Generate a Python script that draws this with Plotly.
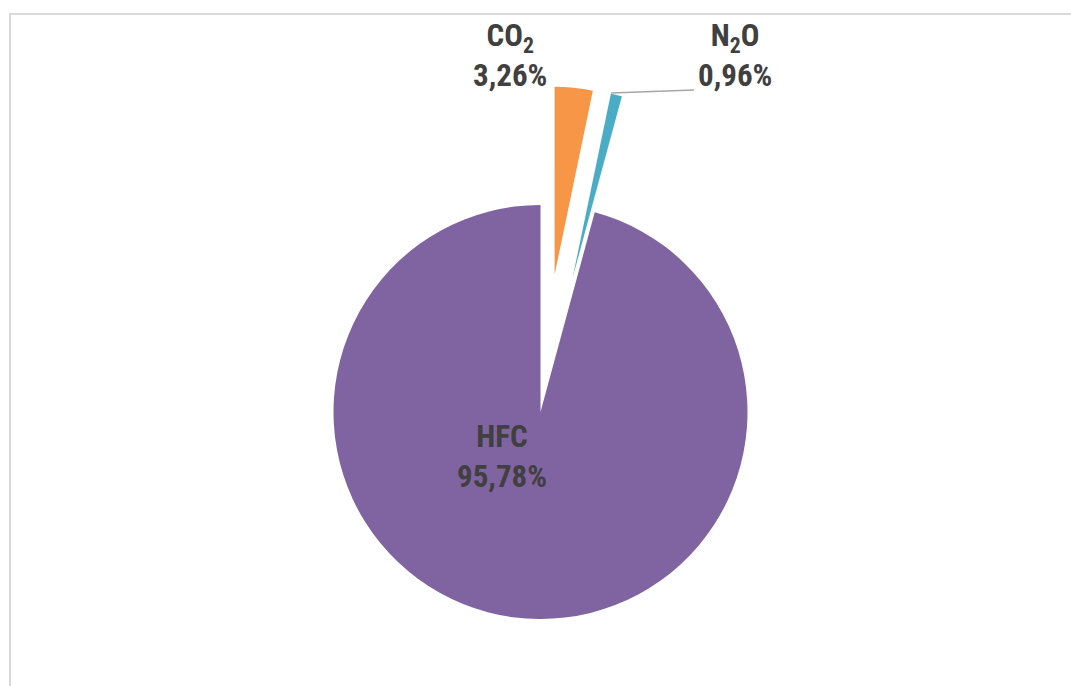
import math
import plotly.graph_objects as go

# Emission shares by gas (percent), clockwise from 12 o'clock
gases = ["CO<sub>2</sub>", "N<sub>2</sub>O", "HFC"]
shares = [3.26, 0.96, 95.78]
colors = ["#F79646", "#4BACC6", "#8064A2"]
exploded = [True, True, False]

W, H = 1071, 686
CX, CY = 540.5, 412.0          # pie centre in pixels
R_MAIN = 207.0                 # radius of the non-exploded slice
R_EXPL = 188.0                 # radius of the exploded slices
EXPLODE_PX = 138.0             # how far exploded slices move outward

TRANSPARENT = "rgba(0,0,0,0)"
total = sum(shares)

fig = go.Figure()

cum = 0.0
for i, (gas, share) in enumerate(zip(gases, shares)):
    mid_deg = (cum + share / 2) / total * 360.0
    cum += share
    if exploded[i]:
        r = R_EXPL
        cx = CX + EXPLODE_PX * math.sin(math.radians(mid_deg))
        cy = CY - EXPLODE_PX * math.cos(math.radians(mid_deg))
    else:
        r, cx, cy = R_MAIN, CX, CY
    slice_colors = [colors[j] if j == i else TRANSPARENT for j in range(len(shares))]
    fig.add_trace(go.Pie(
        labels=gases,
        values=shares,
        sort=False,
        direction="clockwise",
        rotation=0,
        marker=dict(colors=slice_colors, line=dict(width=0)),
        textinfo="none",
        hoverinfo="skip",
        showlegend=False,
        domain=dict(
            x=[max(0, (cx - r) / W), min(1, (cx + r) / W)],
            y=[max(0, 1 - (cy + r) / H), min(1, 1 - (cy - r) / H)],
        ),
    ))

# Data labels
label_pos = [(510, 55), (735, 55), (502, 456)]
annotations = []
for gas, share, (lx, ly) in zip(gases, shares, label_pos):
    pct = f"{share:.2f}".replace(".", ",")
    annotations.append(dict(
        x=lx / W, y=1 - ly / H, xref="paper", yref="paper",
        xanchor="center", yanchor="middle",
        text=f"<b>{gas}<br>{pct}%</b>",
        showarrow=False,
        font=dict(family="Liberation Sans Narrow, Roboto Condensed, Arial Narrow, sans-serif",
                  size=31, color="#404040"),
    ))

shapes = [
    # chart area border
    dict(type="rect", xref="paper", yref="paper",
         x0=10 / W, x1=1.05, y0=-0.05, y1=1 - 14 / H,
         line=dict(color="#D9D9D9", width=2), fillcolor="rgba(0,0,0,0)"),
    # leader line for the N2O label
    dict(type="line", xref="paper", yref="paper",
         x0=611 / W, y0=1 - 93 / H, x1=694 / W, y1=1 - 90 / H,
         line=dict(color="#A6A6A6", width=1.5)),
]

fig.update_layout(
    width=W, height=H,
    margin=dict(l=0, r=0, t=0, b=0),
    paper_bgcolor="white",
    plot_bgcolor="white",
    annotations=annotations,
    shapes=shapes,
)

fig.write_html("out.html")
